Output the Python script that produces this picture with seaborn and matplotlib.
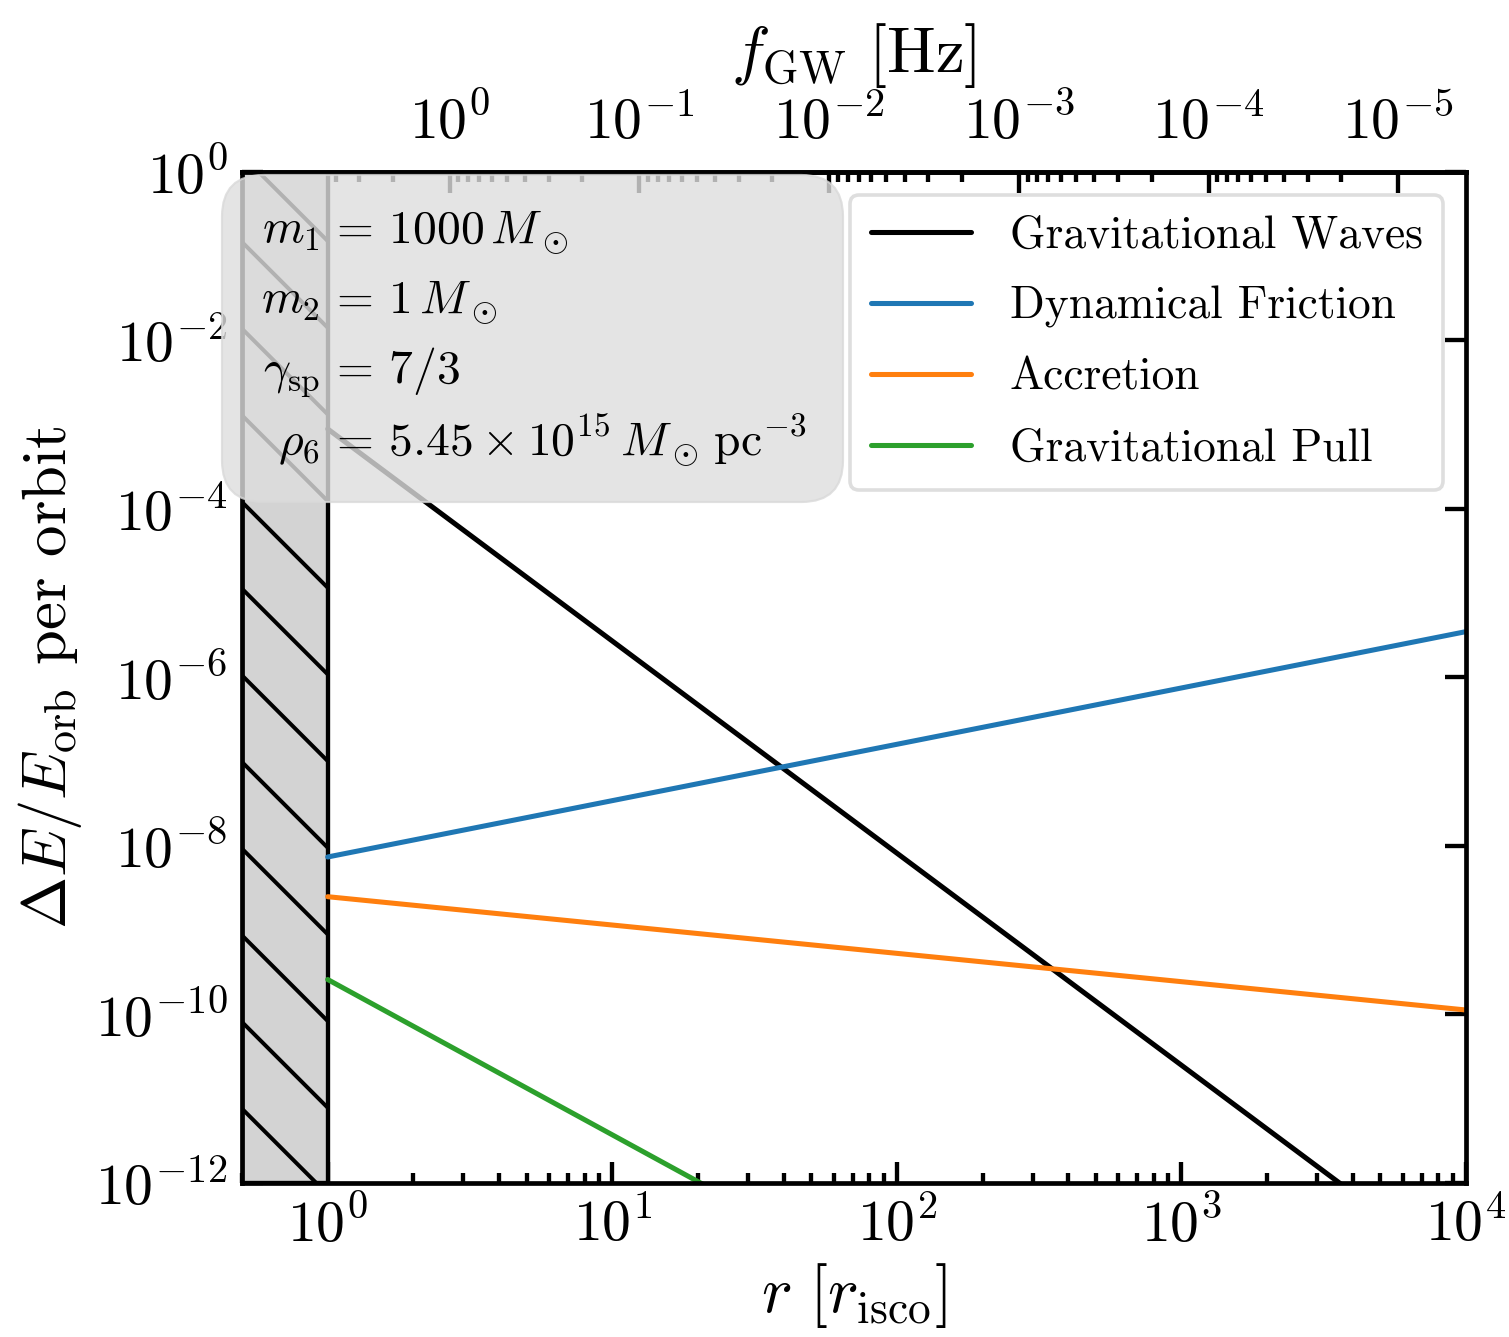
import numpy as np
import pandas as pd
import seaborn as sns
from matplotlib import pyplot as plt
from matplotlib.patches import FancyBboxPatch
from matplotlib.ticker import FixedLocator, NullLocator

# values (straight lines on log-log axes)
r_edges = [1.0, 1.0e4]
gw_loss = [8.9e-4, 7.6e-14]
df_loss = [7.4e-9, 3.5e-6]
acc_loss = [2.5e-9, 1.13e-10]
pull_loss = [2.6e-10, 1.1e-17]

series_names = ["Gravitational Waves", "Dynamical Friction",
                "Accretion", "Gravitational Pull"]
series_colors = ["black", "#1f77b4", "#ff7f0e", "#2ca02c"]

isco_region = [0.5, 1.0]
y_ticks = [1e0, 1e-2, 1e-4, 1e-6, 1e-8, 1e-10, 1e-12]
f_isco = 4.4  # f_GW [Hz] at r = r_isco
f_ticks = [1e0, 1e-1, 1e-2, 1e-3, 1e-4, 1e-5]

box_lhs = [r"$m_1$", r"$m_2$", r"$\gamma_{\rm sp}$", r"$\rho_6$"]
box_rhs = [r"$=\,1000\,M_\odot$", r"$=\,1\,M_\odot$", r"$=\,7/3$",
           r"$=\,5.45\times10^{15}\,M_\odot\,{\rm pc}^{-3}$"]

data = pd.concat([
    pd.DataFrame({"r": r_edges, "loss": vals, "process": name})
    for name, vals in zip(series_names, [gw_loss, df_loss, acc_loss, pull_loss])
])

sns.set_style("ticks")
plt.rcParams.update({
    "font.family": "serif",
    "font.serif": ["cmr10"],
    "mathtext.fontset": "cm",
    "axes.formatter.use_mathtext": True,
    "axes.linewidth": 0.65,
    "axes.edgecolor": "black",
    "axes.labelcolor": "black",
    "text.color": "black",
    "xtick.color": "black",
    "ytick.color": "black",
    "hatch.linewidth": 0.55,
    "xtick.direction": "in",
    "ytick.direction": "in",
})

DPI = 520
fig = plt.figure(figsize=(1509 / DPI, 1337 / DPI), dpi=DPI)
ax = fig.add_axes([0.1604, 0.1152, 0.9715 - 0.1604, 0.8714 - 0.1152])

for name, color in zip(series_names, series_colors):
    sns.lineplot(data=data[data["process"] == name], x="r", y="loss",
                 color=color, lw=0.7, label=name, ax=ax)

# region inside the ISCO
ax.axvspan(isco_region[0], isco_region[1], facecolor="lightgray",
           edgecolor="black", hatch="\\\\", lw=0.6, zorder=1)

ax.set_xscale("log")
ax.set_yscale("log")
ax.set_xlim(0.5, 1e4)
ax.set_ylim(1e-12, 1e0)
ax.set_yticks(y_ticks)
ax.yaxis.set_minor_locator(NullLocator())

ax.tick_params(axis="x", which="both", bottom=True, top=False,
               labelsize=8, pad=2, width=0.6)
ax.tick_params(axis="y", which="both", left=True, right=True,
               labelsize=8, pad=2, width=0.6)
ax.tick_params(which="major", length=2.9)
ax.tick_params(which="minor", length=1.4)

ax.set_xlabel(r"$r\ [r_{\rm isco}]$", fontsize=9, labelpad=1)
ax.set_ylabel(r"$\Delta E / E_{\rm orb}$ per orbit", fontsize=8.7,
              labelpad=1.5)


def r_to_f(r):
    r = np.asarray(r, dtype=float)
    with np.errstate(divide="ignore", invalid="ignore"):
        return f_isco * r ** -1.5


def f_to_r(f):
    f = np.asarray(f, dtype=float)
    with np.errstate(divide="ignore", invalid="ignore"):
        return (f / f_isco) ** (-2.0 / 3.0)


# top frequency axis, ticks only between r_isco and the last decade
f_minor = [k * t / 10 for t in f_ticks + [1e1] for k in range(2, 10)]
f_minor = [f for f in f_minor if f_ticks[-1] <= f <= f_isco]

secax = ax.secondary_xaxis("top", functions=(r_to_f, f_to_r))
secax.xaxis.set_major_locator(FixedLocator(f_ticks))
secax.xaxis.set_minor_locator(FixedLocator(f_minor))
secax.tick_params(which="both", direction="in", labelsize=8, pad=3,
                  width=0.6, color="black")
secax.tick_params(which="major", length=2.9)
secax.tick_params(which="minor", length=1.4)
secax.set_xlabel(r"$f_{\rm GW}\ [{\rm Hz}]$", fontsize=9, labelpad=3)

leg = ax.legend(loc="upper right", fontsize=6.3, frameon=True, fancybox=True,
                handlelength=2.2, handletextpad=0.86, labelspacing=0.64,
                borderpad=0.45)
leg.get_frame().set_linewidth(0.5)
leg.get_frame().set_edgecolor("0.84")

# parameter box drawn on top of everything
box = FancyBboxPatch((222 / DPI, (1337 - 502) / DPI), 621 / DPI, 327 / DPI,
                     boxstyle="round,pad=0,rounding_size=0.08",
                     transform=fig.dpi_scale_trans, facecolor="0.87",
                     edgecolor="0.85", lw=0.3, alpha=0.8, zorder=5)
fig.add_artist(box)

row_y = [243, 313, 383, 455]
for lhs, rhs, yy in zip(box_lhs, box_rhs, row_y):
    fig.text(320 / 1509, 1 - yy / 1337, lhs, ha="right", va="baseline",
             fontsize=6.6, zorder=6)
    fig.text(328 / 1509, 1 - yy / 1337, rhs, ha="left", va="baseline",
             fontsize=6.6, zorder=6)

fig.savefig("out.png", dpi=DPI)
